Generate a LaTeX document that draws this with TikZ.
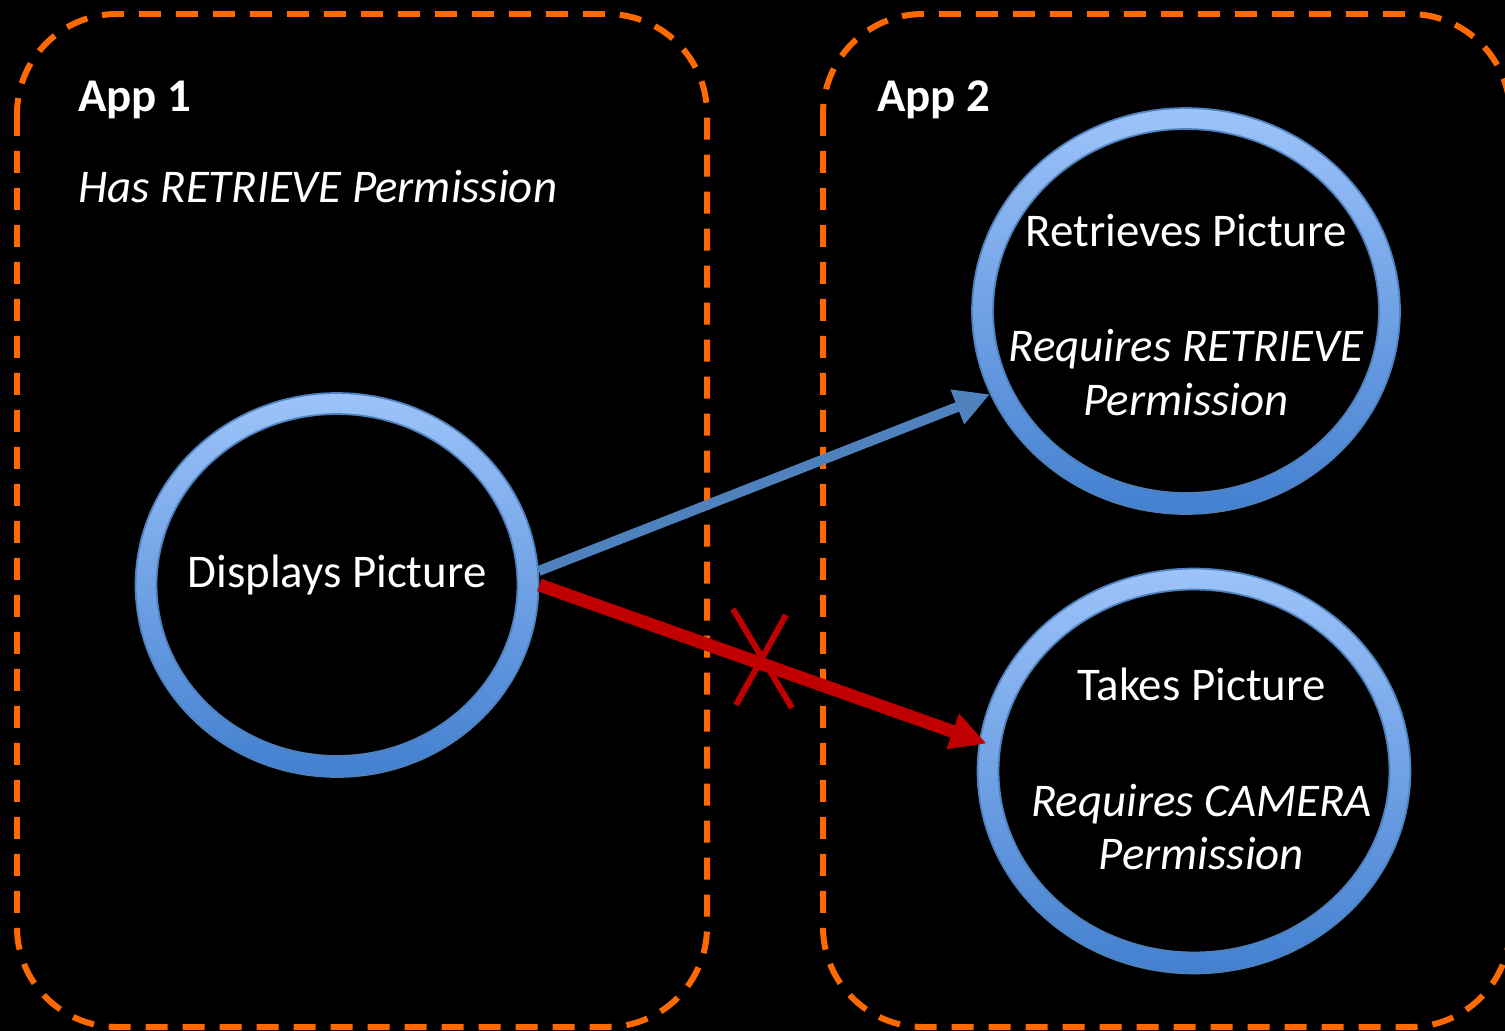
\documentclass[tikz,border=0pt]{standalone}
\usepackage{fontspec}
\setmainfont{Carlito}
\usetikzlibrary{arrows.meta,positioning,shapes.geometric}
\definecolor{boxline}{HTML}{FF6A00}
\definecolor{ringtop}{HTML}{9DC3FA}
\definecolor{ringbot}{HTML}{4380D0}
\definecolor{ringedge}{HTML}{4F81BD}
\definecolor{okarrow}{HTML}{4F81BD}
\definecolor{noarrow}{HTML}{C00000}

\begin{document}
\begin{tikzpicture}[x=0.02cm, y=-0.02cm, font=\fontsize{26.7}{30.4}\selectfont, text=white,
  appbox/.style={draw=boxline, line width=0.12cm, dash pattern=on 0.44cm off 0.3cm, rounded corners=2cm},
  ringout/.style={ellipse, draw=ringedge, line width=1pt, top color=ringtop, bottom color=ringbot, inner sep=0pt},
  ringin/.style={ellipse, draw=ringedge, line width=1pt, fill=black, inner sep=0pt},
  okline/.style={draw=okarrow, line width=0.2cm, -{Triangle[length=0.7cm, width=0.7cm]}},
  noline/.style={draw=noarrow, line width=0.26cm, -{Triangle[length=0.72cm, width=0.7cm]}}]
  \useasboundingbox (0,0) rectangle (1505,1031);
  \fill[black] (0,0) rectangle (1505,1031);

  % the two apps
  \draw[appbox] (17,14) rectangle (707,1027);
  \draw[appbox] (823,14) rectangle (1510,1027);
  \node[anchor=west, inner sep=0pt, font=\fontsize{26.7}{30.4}\selectfont\bfseries] (app1) at (78,100) {App 1};
  \node[anchor=west, inner sep=0pt, font=\fontsize{26.7}{30.4}\selectfont\itshape] (perm1) at (78,187) {Has RETRIEVE Permission};
  \node[anchor=west, inner sep=0pt, font=\fontsize{26.7}{30.4}\selectfont\bfseries] (app2) at (877,100) {App 2};

  % rings
  \node[ringout, minimum width=8.06cm, minimum height=7.68cm] (dispring) at (337,585) {};
  \node[ringin, minimum width=7.22cm, minimum height=6.84cm] (disp) at (dispring.center) {};
  \node (disptext) at ([yshift=0.2cm]disp.center) {Displays Picture};

  \node[ringout, minimum width=8.56cm, minimum height=8.12cm] (retrring) at (1186,311) {};
  \node[ringin, minimum width=7.72cm, minimum height=7.28cm] (retr) at (retrring.center) {};
  \node[align=center] (retrtext) at ([yshift=-0.08cm]retr.center)
    {Retrieves Picture\\[1.24cm]\textit{Requires RETRIEVE}\\\textit{Permission}};

  \node[ringout, minimum width=8.66cm, minimum height=8.10cm] (takesring) at (1194,771) {};
  \node[ringin, minimum width=7.82cm, minimum height=7.26cm] (takes) at (takesring.center) {};
  \node[align=center] (takestext) at ([xshift=0.15cm, yshift=0.04cm]takes.center)
    {Takes Picture\\[1.24cm]\textit{Requires CAMERA}\\\textit{Permission}};

  % calls
  \draw[okline] (dispring.4) -- (retrring.203);
  \draw[noline, shorten >=-0.16cm] (dispring.0) -- (takesring.172);
  \draw[noarrow, line width=0.12cm] (733,609) -- (792,708) (786,615) -- (736,705);
\end{tikzpicture}
\end{document}
